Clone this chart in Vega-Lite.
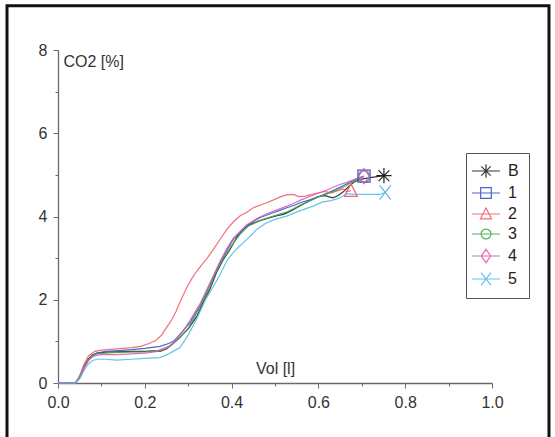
{
  "$schema": "https://vega.github.io/schema/vega-lite/v6.json",
  "width": 434,
  "height": 333,
  "autosize": {"type": "none"},
  "padding": {"left": 58, "top": 50, "right": 63, "bottom": 54},
  "background": "white",
  "config": {
    "view": {"stroke": null},
    "font": "Liberation Sans",
    "axis": {
      "grid": false,
      "domainColor": "#6a6a6a",
      "domainWidth": 1.3,
      "tickColor": "#6a6a6a",
      "tickWidth": 1,
      "labelFont": "Liberation Sans",
      "labelFontSize": 16,
      "labelColor": "#333333",
      "titleFont": "Liberation Sans",
      "titleFontSize": 16,
      "titleFontWeight": "normal",
      "titleColor": "#333333",
      "labelOverlap": false,
      "labelFlush": false
    },
    "point": {"filled": false, "strokeWidth": 1.2, "size": 256, "opacity": 1}
  },
  "datasets": {
    "curves": [
      {"series":"B","v":0,"c":0},{"series":"B","v":0.04,"c":0},{"series":"B","v":0.05,"c":0.15},{"series":"B","v":0.06,"c":0.4},{"series":"B","v":0.07,"c":0.58},{"series":"B","v":0.08,"c":0.68},{"series":"B","v":0.09,"c":0.72},{"series":"B","v":0.11,"c":0.74},{"series":"B","v":0.135,"c":0.75},{"series":"B","v":0.17,"c":0.76},{"series":"B","v":0.2,"c":0.76},{"series":"B","v":0.22,"c":0.77},{"series":"B","v":0.235,"c":0.76},{"series":"B","v":0.25,"c":0.82},{"series":"B","v":0.265,"c":0.95},{"series":"B","v":0.28,"c":1.09},{"series":"B","v":0.3,"c":1.3},{"series":"B","v":0.32,"c":1.6},{"series":"B","v":0.335,"c":1.95},{"series":"B","v":0.35,"c":2.25},{"series":"B","v":0.365,"c":2.65},{"series":"B","v":0.381,"c":2.97},{"series":"B","v":0.396,"c":3.2},{"series":"B","v":0.412,"c":3.5},{"series":"B","v":0.425,"c":3.68},{"series":"B","v":0.44,"c":3.8},{"series":"B","v":0.465,"c":3.9},{"series":"B","v":0.49,"c":3.98},{"series":"B","v":0.505,"c":4.02},{"series":"B","v":0.519,"c":4.05},{"series":"B","v":0.53,"c":4.1},{"series":"B","v":0.545,"c":4.18},{"series":"B","v":0.56,"c":4.27},{"series":"B","v":0.58,"c":4.38},{"series":"B","v":0.6,"c":4.48},{"series":"B","v":0.615,"c":4.5},{"series":"B","v":0.633,"c":4.45},{"series":"B","v":0.645,"c":4.5},{"series":"B","v":0.658,"c":4.6},{"series":"B","v":0.67,"c":4.72},{"series":"B","v":0.682,"c":4.83},{"series":"B","v":0.7,"c":4.9},{"series":"B","v":0.715,"c":4.93},{"series":"B","v":0.735,"c":4.96},{"series":"B","v":0.751,"c":4.98},

      {"series":"1","v":0,"c":0},{"series":"1","v":0.04,"c":0},{"series":"1","v":0.05,"c":0.12},{"series":"1","v":0.06,"c":0.36},{"series":"1","v":0.07,"c":0.55},{"series":"1","v":0.08,"c":0.66},{"series":"1","v":0.09,"c":0.72},{"series":"1","v":0.11,"c":0.76},{"series":"1","v":0.14,"c":0.78},{"series":"1","v":0.17,"c":0.8},{"series":"1","v":0.2,"c":0.83},{"series":"1","v":0.235,"c":0.88},{"series":"1","v":0.255,"c":0.95},{"series":"1","v":0.266,"c":1.0},{"series":"1","v":0.281,"c":1.17},{"series":"1","v":0.304,"c":1.45},{"series":"1","v":0.327,"c":1.85},{"series":"1","v":0.343,"c":2.2},{"series":"1","v":0.36,"c":2.6},{"series":"1","v":0.373,"c":2.89},{"series":"1","v":0.39,"c":3.2},{"series":"1","v":0.404,"c":3.45},{"series":"1","v":0.42,"c":3.62},{"series":"1","v":0.435,"c":3.77},{"series":"1","v":0.45,"c":3.88},{"series":"1","v":0.465,"c":3.97},{"series":"1","v":0.48,"c":4.03},{"series":"1","v":0.496,"c":4.09},{"series":"1","v":0.51,"c":4.14},{"series":"1","v":0.527,"c":4.21},{"series":"1","v":0.545,"c":4.27},{"series":"1","v":0.558,"c":4.33},{"series":"1","v":0.58,"c":4.4},{"series":"1","v":0.604,"c":4.49},{"series":"1","v":0.625,"c":4.58},{"series":"1","v":0.645,"c":4.68},{"series":"1","v":0.665,"c":4.78},{"series":"1","v":0.68,"c":4.86},{"series":"1","v":0.695,"c":4.93},{"series":"1","v":0.705,"c":4.97},

      {"series":"2","v":0,"c":0},{"series":"2","v":0.04,"c":0},{"series":"2","v":0.05,"c":0.18},{"series":"2","v":0.06,"c":0.45},{"series":"2","v":0.07,"c":0.65},{"series":"2","v":0.085,"c":0.76},{"series":"2","v":0.1,"c":0.79},{"series":"2","v":0.135,"c":0.82},{"series":"2","v":0.17,"c":0.85},{"series":"2","v":0.19,"c":0.88},{"series":"2","v":0.21,"c":0.95},{"series":"2","v":0.225,"c":1.02},{"series":"2","v":0.238,"c":1.14},{"series":"2","v":0.25,"c":1.33},{"series":"2","v":0.262,"c":1.52},{"series":"2","v":0.272,"c":1.72},{"series":"2","v":0.28,"c":1.92},{"series":"2","v":0.289,"c":2.12},{"series":"2","v":0.297,"c":2.3},{"series":"2","v":0.309,"c":2.52},{"series":"2","v":0.32,"c":2.69},{"series":"2","v":0.333,"c":2.86},{"series":"2","v":0.343,"c":2.99},{"series":"2","v":0.358,"c":3.21},{"series":"2","v":0.37,"c":3.4},{"series":"2","v":0.389,"c":3.69},{"series":"2","v":0.405,"c":3.88},{"series":"2","v":0.419,"c":4.01},{"series":"2","v":0.435,"c":4.1},{"series":"2","v":0.45,"c":4.21},{"series":"2","v":0.465,"c":4.27},{"series":"2","v":0.481,"c":4.33},{"series":"2","v":0.497,"c":4.4},{"series":"2","v":0.512,"c":4.47},{"series":"2","v":0.527,"c":4.52},{"series":"2","v":0.542,"c":4.53},{"series":"2","v":0.555,"c":4.48},{"series":"2","v":0.57,"c":4.49},{"series":"2","v":0.581,"c":4.52},{"series":"2","v":0.6,"c":4.57},{"series":"2","v":0.615,"c":4.6},{"series":"2","v":0.63,"c":4.57},{"series":"2","v":0.645,"c":4.62},{"series":"2","v":0.658,"c":4.66},{"series":"2","v":0.665,"c":4.6},{"series":"2","v":0.675,"c":4.62},

      {"series":"3","v":0,"c":0},{"series":"3","v":0.04,"c":0},{"series":"3","v":0.05,"c":0.14},{"series":"3","v":0.06,"c":0.38},{"series":"3","v":0.07,"c":0.56},{"series":"3","v":0.08,"c":0.66},{"series":"3","v":0.09,"c":0.7},{"series":"3","v":0.12,"c":0.73},{"series":"3","v":0.16,"c":0.74},{"series":"3","v":0.2,"c":0.75},{"series":"3","v":0.23,"c":0.78},{"series":"3","v":0.26,"c":0.9},{"series":"3","v":0.28,"c":1.08},{"series":"3","v":0.3,"c":1.32},{"series":"3","v":0.32,"c":1.68},{"series":"3","v":0.34,"c":2.1},{"series":"3","v":0.36,"c":2.58},{"series":"3","v":0.38,"c":2.98},{"series":"3","v":0.4,"c":3.3},{"series":"3","v":0.42,"c":3.58},{"series":"3","v":0.44,"c":3.78},{"series":"3","v":0.47,"c":3.92},{"series":"3","v":0.5,"c":4.02},{"series":"3","v":0.53,"c":4.12},{"series":"3","v":0.56,"c":4.28},{"series":"3","v":0.6,"c":4.47},{"series":"3","v":0.63,"c":4.58},{"series":"3","v":0.66,"c":4.72},{"series":"3","v":0.685,"c":4.87},{"series":"3","v":0.705,"c":4.96},

      {"series":"4","v":0,"c":0},{"series":"4","v":0.04,"c":0},{"series":"4","v":0.05,"c":0.13},{"series":"4","v":0.06,"c":0.36},{"series":"4","v":0.07,"c":0.54},{"series":"4","v":0.08,"c":0.63},{"series":"4","v":0.09,"c":0.67},{"series":"4","v":0.11,"c":0.69},{"series":"4","v":0.135,"c":0.68},{"series":"4","v":0.17,"c":0.7},{"series":"4","v":0.2,"c":0.72},{"series":"4","v":0.23,"c":0.76},{"series":"4","v":0.25,"c":0.83},{"series":"4","v":0.266,"c":0.97},{"series":"4","v":0.285,"c":1.2},{"series":"4","v":0.304,"c":1.5},{"series":"4","v":0.327,"c":1.9},{"series":"4","v":0.343,"c":2.25},{"series":"4","v":0.36,"c":2.62},{"series":"4","v":0.373,"c":2.92},{"series":"4","v":0.39,"c":3.25},{"series":"4","v":0.404,"c":3.48},{"series":"4","v":0.42,"c":3.65},{"series":"4","v":0.435,"c":3.8},{"series":"4","v":0.45,"c":3.9},{"series":"4","v":0.465,"c":3.99},{"series":"4","v":0.48,"c":4.06},{"series":"4","v":0.5,"c":4.14},{"series":"4","v":0.52,"c":4.22},{"series":"4","v":0.54,"c":4.3},{"series":"4","v":0.56,"c":4.4},{"series":"4","v":0.58,"c":4.48},{"series":"4","v":0.6,"c":4.56},{"series":"4","v":0.625,"c":4.66},{"series":"4","v":0.645,"c":4.75},{"series":"4","v":0.665,"c":4.82},{"series":"4","v":0.685,"c":4.9},{"series":"4","v":0.705,"c":4.97},

      {"series":"5","v":0,"c":0},{"series":"5","v":0.04,"c":0},{"series":"5","v":0.05,"c":0.1},{"series":"5","v":0.06,"c":0.3},{"series":"5","v":0.07,"c":0.46},{"series":"5","v":0.08,"c":0.54},{"series":"5","v":0.09,"c":0.57},{"series":"5","v":0.11,"c":0.57},{"series":"5","v":0.135,"c":0.55},{"series":"5","v":0.17,"c":0.57},{"series":"5","v":0.2,"c":0.59},{"series":"5","v":0.235,"c":0.61},{"series":"5","v":0.255,"c":0.7},{"series":"5","v":0.281,"c":0.85},{"series":"5","v":0.3,"c":1.15},{"series":"5","v":0.32,"c":1.55},{"series":"5","v":0.34,"c":2.0},{"series":"5","v":0.357,"c":2.3},{"series":"5","v":0.373,"c":2.6},{"series":"5","v":0.39,"c":2.95},{"series":"5","v":0.405,"c":3.15},{"series":"5","v":0.419,"c":3.29},{"series":"5","v":0.435,"c":3.45},{"series":"5","v":0.445,"c":3.55},{"series":"5","v":0.458,"c":3.69},{"series":"5","v":0.47,"c":3.78},{"series":"5","v":0.481,"c":3.85},{"series":"5","v":0.5,"c":3.93},{"series":"5","v":0.527,"c":4.01},{"series":"5","v":0.555,"c":4.13},{"series":"5","v":0.588,"c":4.25},{"series":"5","v":0.61,"c":4.35},{"series":"5","v":0.63,"c":4.38},{"series":"5","v":0.65,"c":4.45},{"series":"5","v":0.665,"c":4.55},{"series":"5","v":0.68,"c":4.53},{"series":"5","v":0.7,"c":4.53},{"series":"5","v":0.742,"c":4.53},{"series":"5","v":0.754,"c":4.58}
    ],
    "frame": [{"label": "frame"}]
  },
  "layer": [
    {
      "data": {"name": "frame"},
      "mark": {"type": "rect", "fill": "white", "fillOpacity": 0, "stroke": "#111111", "strokeWidth": 3},
      "encoding": {
        "x": {"datum": -0.1175, "type": "quantitative"},
        "x2": {"datum": 1.1313},
        "y": {"datum": 9.0625, "type": "quantitative"},
        "y2": {"datum": -1.7}
      }
    },
    {
      "data": {"name": "curves"},
      "mark": {"type": "line", "strokeWidth": 1.2, "opacity": 0.9},
      "encoding": {
        "x": {
          "field": "v", "type": "quantitative",
          "scale": {"domain": [0, 1], "nice": false, "zero": false},
          "axis": {
            "title": "Vol [l]",
            "values": [0,0.05,0.1,0.15,0.2,0.25,0.3,0.35,0.4,0.45,0.5,0.55,0.6,0.65,0.7,0.75,0.8,0.85,0.9,0.95,1.0],
            "labelExpr": "abs(datum.value*5 - round(datum.value*5)) < 0.001 ? format(datum.value, '.1f') : ''",
            "tickSize": {"condition": {"test": "abs(datum.value*5 - round(datum.value*5)) < 0.001", "value": 5}, "value": 3},
            "labelPadding": 6,
            "titleX": 217,
            "titleY": -10,
            "titleAlign": "center",
            "titleBaseline": "alphabetic",
            "titleAnchor": null
          }
        },
        "y": {
          "field": "c", "type": "quantitative",
          "scale": {"domain": [0, 8], "nice": false},
          "axis": {
            "title": "CO2 [%]",
            "values": [0,0.5,1,1.5,2,2.5,3,3.5,4,4.5,5,5.5,6,6.5,7,7.5,8],
            "labelExpr": "datum.value % 2 === 0 ? format(datum.value, 'd') : ''",
            "tickSize": {"condition": {"test": "datum.value % 2 === 0", "value": 5}, "value": 3},
            "labelPadding": 6,
            "titleAngle": 0,
            "titleX": 5,
            "titleY": 16,
            "titleAlign": "left",
            "titleBaseline": "alphabetic",
            "titleAnchor": null
          }
        },
        "color": {
          "field": "series", "type": "nominal",
          "scale": {
            "domain": ["B","1","2","3","4","5"],
            "range": ["#222222","#3557c8","#f0606e","#45a845","#d95cc0","#55bde8"]
          },
          "legend": {
            "orient": "none",
            "legendX": 408,
            "legendY": 103,
            "title": null,
            "strokeColor": "#555555",
            "fillColor": "white",
            "padding": 10,
            "symbolSize": 196,
            "symbolOffset": 2,
            "labelOffset": 14,
            "labelFontSize": 16,
            "labelFont": "Liberation Sans",
            "labelColor": "#222222",
            "rowPadding": 4,
            "symbolStrokeWidth": 1.2,
            "symbolType": {"expr": "datum.value === 'B' ? 'M-2,0H2M0,-0.95V0.95M-0.67,-0.67L0.67,0.67M-0.67,0.67L0.67,-0.67' : datum.value === '1' ? 'M-0.76,-0.76H0.76V0.76H-0.76ZM-2,0H2' : datum.value === '2' ? 'M0,-0.85L0.8,0.7H-0.8ZM-2,0H2' : datum.value === '3' ? 'M0.71,0A0.71,0.71,0,1,1,-0.71,0A0.71,0.71,0,1,1,0.71,0ZM-2,0H2' : datum.value === '4' ? 'M0,-0.95L0.67,0L0,0.95L-0.67,0ZM-2,0H2' : 'M-0.71,-0.9L0.71,0.9M-0.71,0.9L0.71,-0.9M-2,0H2'"},
            "encode": {
              "symbols": {
                "update": {
                  "fill": {"value": "transparent"},
                  "stroke": {"signal": "scale('color', datum.value)"},
                  "strokeWidth": {"value": 1.2},
                  "opacity": {"value": 1}
                }
              }
            }
          }
        }
      }
    },
    {
      "data": {"name": "curves"},
      "transform": [
        {"joinaggregate": [{"op": "max", "field": "v", "as": "vmax"}], "groupby": ["series"]},
        {"filter": "datum.v === datum.vmax && datum.series === '3'"}
      ],
      "mark": {"type": "point", "shape": "M0.71,0A0.71,0.71,0,1,1,-0.71,0A0.71,0.71,0,1,1,0.71,0Z"},
      "encoding": {
        "x": {"field": "v", "type": "quantitative"},
        "y": {"field": "c", "type": "quantitative"},
        "color": {"field": "series", "type": "nominal"}
      }
    },
    {
      "data": {"name": "curves"},
      "transform": [
        {"joinaggregate": [{"op": "max", "field": "v", "as": "vmax"}], "groupby": ["series"]},
        {"filter": "datum.v === datum.vmax && datum.series === '1'"}
      ],
      "mark": {"type": "point", "shape": "M-0.76,-0.76H0.76V0.76H-0.76Z"},
      "encoding": {
        "x": {"field": "v", "type": "quantitative"},
        "y": {"field": "c", "type": "quantitative"},
        "color": {"field": "series", "type": "nominal"}
      }
    },
    {
      "data": {"name": "curves"},
      "transform": [
        {"joinaggregate": [{"op": "max", "field": "v", "as": "vmax"}], "groupby": ["series"]},
        {"filter": "datum.v === datum.vmax && datum.series === '4'"}
      ],
      "mark": {"type": "point", "shape": "M0,-0.95L0.67,0L0,0.95L-0.67,0Z"},
      "encoding": {
        "x": {"field": "v", "type": "quantitative"},
        "y": {"field": "c", "type": "quantitative"},
        "color": {"field": "series", "type": "nominal"}
      }
    },
    {
      "data": {"name": "curves"},
      "transform": [
        {"joinaggregate": [{"op": "max", "field": "v", "as": "vmax"}], "groupby": ["series"]},
        {"filter": "datum.v === datum.vmax && datum.series === '2'"}
      ],
      "mark": {"type": "point", "shape": "M0,-0.85L0.8,0.7H-0.8Z"},
      "encoding": {
        "x": {"field": "v", "type": "quantitative"},
        "y": {"field": "c", "type": "quantitative"},
        "color": {"field": "series", "type": "nominal"}
      }
    },
    {
      "data": {"name": "curves"},
      "transform": [
        {"joinaggregate": [{"op": "max", "field": "v", "as": "vmax"}], "groupby": ["series"]},
        {"filter": "datum.v === datum.vmax && datum.series === '5'"}
      ],
      "mark": {"type": "point", "shape": "M-0.71,-0.9L0.71,0.9M-0.71,0.9L0.71,-0.9"},
      "encoding": {
        "x": {"field": "v", "type": "quantitative"},
        "y": {"field": "c", "type": "quantitative"},
        "color": {"field": "series", "type": "nominal"}
      }
    },
    {
      "data": {"name": "curves"},
      "transform": [
        {"joinaggregate": [{"op": "max", "field": "v", "as": "vmax"}], "groupby": ["series"]},
        {"filter": "datum.v === datum.vmax && datum.series === 'B'"}
      ],
      "mark": {"type": "point", "shape": "M-0.95,0H0.95M0,-0.95V0.95M-0.67,-0.67L0.67,0.67M-0.67,0.67L0.67,-0.67"},
      "encoding": {
        "x": {"field": "v", "type": "quantitative"},
        "y": {"field": "c", "type": "quantitative"},
        "color": {"field": "series", "type": "nominal"}
      }
    }
  ]
}
